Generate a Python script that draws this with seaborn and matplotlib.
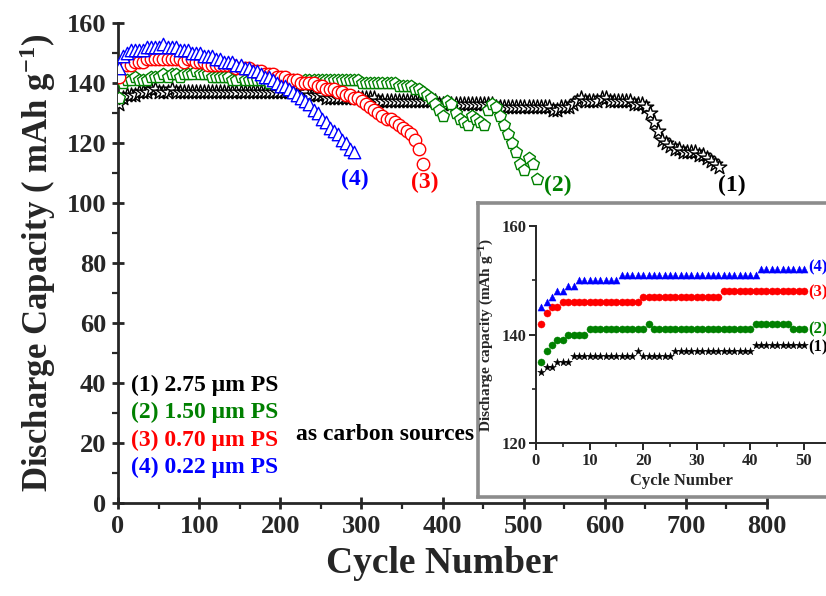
import numpy as np
import pandas as pd
import matplotlib
matplotlib.use("Agg")
import matplotlib.pyplot as plt
import seaborn as sns

# ---------------- data ----------------
# long-term cycling, one value every 5 cycles (mAh g-1)
cap_275 = [133, 135, 136, 136, 136, 137, 137, 137, 138, 138,
           137, 137, 137, 138, 137, 137, 137, 137, 137, 137,
           137, 137, 137, 137, 137, 137, 137, 137, 137, 137,
           137, 137, 137, 137, 137, 137, 137, 137, 137, 137,
           137, 137, 137, 137, 137, 137, 137, 136, 136, 136,
           136, 135, 135, 135, 135, 135, 135, 135, 135, 135,
           135, 135, 135, 135, 134, 134, 134, 134, 134, 134,
           134, 134, 134, 134, 134, 134, 134, 134, 134, 133,
           133, 133, 133, 133, 133, 133, 133, 133, 133, 133,
           133, 133, 133, 132, 132, 132, 132, 132, 132, 132,
           132, 132, 132, 132, 132, 132, 132, 131, 131, 132,
           132, 132, 133, 134, 135, 134, 134, 134, 134, 135,
           135, 134, 134, 134, 134, 134, 134, 133, 133, 133,
           132, 130, 127, 124, 121, 120, 119, 118, 118, 117,
           117, 117, 117, 116, 116, 115, 114, 113, 112]
cap_150 = [135, 140, 141, 141, 142, 141, 141, 141, 142, 142,
           142, 143, 142, 143, 143, 142, 143, 143, 143, 144,
           143, 143, 143, 142, 142, 142, 142, 142, 141, 141,
           142, 141, 141, 141, 141, 141, 141, 140, 141, 140,
           140, 140, 141, 141, 141, 140, 141, 141, 141, 141,
           141, 141, 141, 141, 141, 141, 141, 141, 141, 141,
           140, 140, 140, 140, 140, 140, 140, 140, 140, 139,
           139, 139, 139, 138, 138, 137, 136, 135, 133, 131,
           129, 134, 133, 130, 128, 127, 126, 129, 128, 127,
           126, 131, 133, 132, 129, 126, 123, 120, 117, 113,
           111, 115, 113, 108]
cap_070 = [142, 146, 146, 146, 147, 147, 147, 148, 148, 148,
           148, 148, 148, 148, 148, 148, 147, 148, 148, 147,
           147, 147, 146, 146, 146, 146, 146, 146, 146, 145,
           145, 145, 145, 144, 144, 144, 143, 143, 143, 142,
           142, 142, 141, 141, 141, 140, 140, 140, 140, 139,
           139, 138, 138, 138, 137, 137, 136, 136, 135, 135,
           134, 133, 132, 131, 130, 129, 128, 128, 127, 126,
           125, 124, 123, 121, 118, 113]
cap_022 = [145, 149, 150, 151, 151, 151, 151, 152, 152, 152,
           152, 153, 152, 152, 152, 151, 151, 151, 150, 150,
           150, 149, 149, 149, 148, 148, 147, 147, 147, 146,
           146, 145, 145, 144, 144, 143, 142, 142, 141, 140,
           139, 139, 138, 137, 136, 135, 134, 133, 131, 130,
           128, 127, 125, 124, 123, 121, 120, 118, 117]
cycle_step = 5

# first 50 cycles, every cycle (mAh g-1)
first_275 = [133, 134, 134, 135, 135, 135, 136, 136, 136, 136,
             136, 136, 136, 136, 136, 136, 136, 136, 137, 136,
             136, 136, 136, 136, 136, 137, 137, 137, 137, 137,
             137, 137, 137, 137, 137, 137, 137, 137, 137, 137,
             138, 138, 138, 138, 138, 138, 138, 138, 138, 138]
first_150 = [135, 137, 138, 139, 139, 140, 140, 140, 140, 141,
             141, 141, 141, 141, 141, 141, 141, 141, 141, 141,
             142, 141, 141, 141, 141, 141, 141, 141, 141, 141,
             141, 141, 141, 141, 141, 141, 141, 141, 141, 141,
             142, 142, 142, 142, 142, 142, 142, 141, 141, 141]
first_070 = [142, 144, 145, 145, 146, 146, 146, 146, 146, 146,
             146, 146, 146, 146, 146, 146, 146, 146, 146, 147,
             147, 147, 147, 147, 147, 147, 147, 147, 147, 147,
             147, 147, 147, 147, 148, 148, 148, 148, 148, 148,
             148, 148, 148, 148, 148, 148, 148, 148, 148, 148]
first_022 = [145, 146, 147, 148, 148, 149, 149, 150, 150, 150,
             150, 150, 150, 150, 150, 151, 151, 151, 151, 151,
             151, 151, 151, 151, 151, 151, 151, 151, 151, 151,
             151, 151, 151, 151, 151, 151, 151, 151, 151, 151,
             151, 152, 152, 152, 152, 152, 152, 152, 152, 152]

tags = ["(1)", "(2)", "(3)", "(4)"]
sizes = ["2.75 μm PS", "1.50 μm PS", "0.70 μm PS", "0.22 μm PS"]
colors = ["black", "#008000", "#ff0000", "#0000ff"]
markers = ["*", "p", "o", "^"]
long_series = [cap_275, cap_150, cap_070, cap_022]
short_series = [first_275, first_150, first_070, first_022]

# ---------------- style ----------------
sns.set_style("ticks")
plt.rcParams["font.family"] = ["Liberation Serif", "DejaVu Serif"]
plt.rcParams["font.weight"] = "bold"
plt.rcParams["axes.labelweight"] = "bold"
plt.rcParams["mathtext.default"] = "regular"

fig = plt.figure(figsize=(8.26, 5.96), dpi=100)

# ---------------- main axes ----------------
ax = fig.add_axes([0.1429, 0.1560, 0.7857, 0.8054])
frames = []
for tag, caps in zip(tags, long_series):
    cyc = np.arange(len(caps)) * cycle_step + 1
    frames.append(pd.DataFrame({"cycle": cyc, "cap": caps, "sample": tag}))
long_df = pd.concat(frames, ignore_index=True)

for tag, col, mk in zip(tags, colors, markers):
    sub = long_df[long_df["sample"] == tag]
    size = 120 if mk == "*" else 80
    sns.scatterplot(data=sub, x="cycle", y="cap", marker=mk, s=size,
                    color="white", edgecolor=col, linewidth=1.0,
                    ax=ax, legend=False, zorder=3)

ax.set_xlim(0, 800)
ax.set_ylim(0, 160)
ax.set_xticks(np.arange(0, 801, 100))
ax.set_xticks(np.arange(50, 800, 100), minor=True)
ax.set_yticks(np.arange(0, 161, 20))
ax.set_yticks(np.arange(10, 160, 20), minor=True)
sns.despine(ax=ax)
for s in ("left", "bottom"):
    ax.spines[s].set_linewidth(2.0)
ax.tick_params(axis="both", which="major", direction="inout", length=9,
               width=2.0, labelsize=19, pad=4)
ax.tick_params(axis="both", which="minor", direction="out", length=4,
               width=1.6)
ax.set_xlabel("Cycle Number", fontsize=27, labelpad=6)
ax.set_ylabel("Discharge Capacity ( mAh g$^{-1}$)", fontsize=25, labelpad=6)

# sample key
key_y = [39.3, 30.2, 21.0, 12.0]
for tag, sz, col, yk in zip(tags, sizes, colors, key_y):
    ax.text(16, yk, f"{tag} {sz}", color=col, fontsize=17,
            ha="left", va="center")
ax.text(219, 22.7, "as carbon sources", color="black", fontsize=17,
        ha="left", va="center")

# end-of-life tags next to each curve
end_pos = [(756, 105.7), (542, 105.7), (378, 106.7), (292, 107.7)]
for tag, col, (xe, ye) in zip(tags, colors, end_pos):
    ax.text(xe, ye, tag, color=col, fontsize=17, ha="center", va="center")

# ---------------- inset ----------------
box = fig.add_axes([0.5787, 0.1661, 0.45, 0.4933])
box.set_xticks([])
box.set_yticks([])
box.set_facecolor("white")
for s in box.spines.values():
    s.set_color("#8c8c8c")
    s.set_linewidth(2.6)

ins = fig.add_axes([0.6489, 0.2567, 0.3511, 0.3641])
frames = []
for tag, caps in zip(tags, short_series):
    frames.append(pd.DataFrame({"cycle": np.arange(1, len(caps) + 1),
                                "cap": caps, "sample": tag}))
short_df = pd.concat(frames, ignore_index=True)
for tag, col, mk in zip(tags, colors, ["*", "o", "o", "^"]):
    sub = short_df[short_df["sample"] == tag]
    size = 34 if mk == "*" else 26
    sns.scatterplot(data=sub, x="cycle", y="cap", marker=mk, s=size,
                    color=col, edgecolor=col, linewidth=0.3,
                    ax=ins, legend=False, zorder=3, clip_on=False)

ins.set_xlim(0, 54.1)
ins.set_ylim(120, 160)
ins.set_xticks(np.arange(0, 51, 10))
ins.set_xticks(np.arange(5, 55, 10), minor=True)
ins.set_yticks([120, 140, 160])
ins.set_yticks([130, 150], minor=True)
sns.despine(ax=ins)
for s in ("left", "bottom"):
    ins.spines[s].set_linewidth(1.4)
ins.tick_params(axis="both", which="major", direction="out", length=5,
                width=1.4, labelsize=12, pad=2)
ins.tick_params(axis="both", which="minor", direction="out", length=3,
                width=1.2)
ins.set_xlabel("Cycle Number", fontsize=12, labelpad=3)
ins.set_ylabel("Discharge capacity (mAh g$^{-1}$)", fontsize=11, labelpad=4)

side_y = [137.7, 141.0, 147.8, 152.3]
for tag, col, ys in zip(tags, colors, side_y):
    ins.text(50.75, ys, tag, color=col, fontsize=12, ha="left",
             va="center", clip_on=False)

fig.savefig("out.png", dpi=100)
